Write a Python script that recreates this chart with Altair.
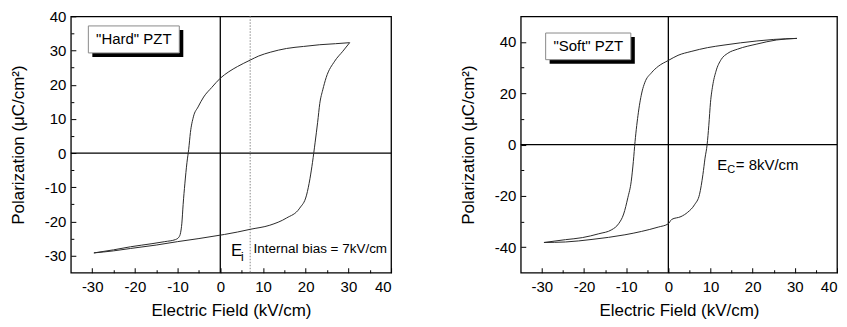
import altair as alt
import pandas as pd

FONT = "Liberation Sans"

# ---------------- data: "Hard" PZT ----------------
hard_down_E = [30.3, 27.0, 23.3, 19.5, 15.5, 11.7, 9.0, 7.0, 4.0, 2.0, 0.0, -2.0, -3.9, -5.2, -6.3,
               -7.0, -7.4, -7.8, -8.3, -8.7, -9.0, -9.3, -9.7, -10.5, -13.0, -16.0, -21.0, -25.0, -29.6]
hard_down_P = [32.3, 32.0, 31.7, 31.2, 30.6, 29.5, 28.4, 27.2, 25.3, 23.8, 21.9, 19.2, 16.4, 13.5, 10.6,
               6.0, 1.1, -2.7, -9.0, -15.0, -20.5, -23.3, -24.6, -25.3, -25.9, -26.5, -27.4, -28.3, -29.2]
hard_up_E = [-29.6, -25.0, -21.0, -15.0, -10.0, -5.0, 0.0, 1.0, 4.0, 7.0, 11.6, 15.5, 18.6, 20.2, 21.0,
             21.6, 22.2, 22.8, 23.3, 24.0, 24.8, 26.8, 28.7, 30.3]
hard_up_P = [-29.2, -28.6, -27.9, -26.9, -25.9, -25.0, -24.0, -23.8, -23.1, -22.3, -21.1, -19.0, -16.1,
             -12.3, -7.5, -2.7, 3.0, 9.0, 14.5, 18.5, 22.1, 26.9, 29.8, 32.3]

# ---------------- data: "Soft" PZT ----------------
soft_down_E = [30.5, 25.0, 21.0, 13.2, 9.3, 5.4, 2.3, 0.0, -2.4, -4.0, -5.6, -6.2, -7.1, -7.9, -8.3,
               -8.8, -9.6, -10.6, -11.8, -13.4, -16.5, -20.4, -24.4, -29.5]
soft_down_P = [41.4, 41.0, 40.4, 38.8, 37.8, 36.3, 34.8, 32.8, 30.5, 28.0, 24.1, 20.9, 12.6, 1.1, -6.6,
               -14.3, -20.7, -27.1, -30.9, -33.2, -34.8, -36.3, -37.1, -38.2]
soft_up_E = [-29.5, -24.4, -18.1, -10.3, -6.4, -2.4, 0.0, 0.8, 3.0, 4.6, 6.2, 7.4, 8.2, 8.7, 9.2, 9.6,
             10.0, 10.5, 11.3, 12.5, 14.1, 16.4, 21.0, 25.7, 30.5]
soft_up_P = [-38.2, -38.0, -37.0, -35.2, -33.9, -32.2, -30.9, -29.2, -28.1, -26.4, -23.5, -19.4, -11.7,
             -5.3, 0.0, 7.5, 16.5, 22.8, 28.6, 33.1, 35.6, 37.2, 39.2, 40.8, 41.4]

# axis ticks
x_major = [-30, -20, -10, 0, 10, 20, 30, 40]
x_minor = [-25, -15, -5, 5, 15, 25, 35]
hard_y_major = [-30, -20, -10, 0, 10, 20, 30, 40]
hard_y_minor = [-25, -15, -5, 5, 15, 25, 35]
soft_y_major = [-40, -20, 0, 20, 40]
soft_y_minor = [-30, -10, 10, 30]

# label boxes (data units)
hard_box = {"x0": -30.9, "x1": -9.6, "y0": 37.2, "y1": 29.3, "t": '"Hard" PZT'}
soft_box = {"x0": -29.1, "x1": -8.9, "y0": 43.5, "y1": 33.1, "t": '"Soft" PZT'}

internal_bias_E = 7
X_DOMAIN = [-35, 40]
SHADOW_PX = 4


def loop_df(dE, dP, uE, uP):
    rows = []
    for e, p in zip(dE, dP):
        rows.append({"E": e, "P": p, "branch": "down"})
    for e, p in zip(uE, uP):
        rows.append({"E": e, "P": p, "branch": "up"})
    return pd.DataFrame(rows)


def txt(xs, ys, E, P, t, size, dx=0, dy=0, align="left"):
    return alt.Chart(pd.DataFrame({"E": [E], "P": [P], "t": [t]})).mark_text(
        font=FONT, fontSize=size, color="black", align=align, baseline="middle", dx=dx, dy=dy
    ).encode(
        x=alt.X("E:Q", scale=xs, axis=None),
        y=alt.Y("P:Q", scale=ys, axis=None),
        text="t:N",
    )


def panel(df, ydom, ymaj, ymin, box, width, height, extras):
    xs = alt.Scale(domain=X_DOMAIN, nice=False, zero=False)
    ys = alt.Scale(domain=ydom, nice=False, zero=False)
    lab = "datum.value + ''"
    xa = alt.Axis(values=x_major, orient="bottom", offset=-5, tickSize=5, labelPadding=7,
                  title="Electric Field (kV/cm)", titlePadding=8, domain=False, labelExpr=lab)
    ya = alt.Axis(values=ymaj, orient="left", offset=-5, tickSize=5, labelPadding=5,
                  title="Polarization (μC/cm²)", titlePadding=17, domain=False, labelExpr=lab)
    xa2 = alt.Axis(values=x_minor, orient="bottom", offset=-3, tickSize=3, labels=False,
                   title=None, domain=False)
    ya2 = alt.Axis(values=ymin, orient="left", offset=-3, tickSize=3, labels=False,
                   title=None, domain=False)

    vzero = alt.Chart(pd.DataFrame({"E": [0]})).mark_rule(color="black", strokeWidth=1.3).encode(
        x=alt.X("E:Q", scale=xs, axis=None))
    hzero = alt.Chart(pd.DataFrame({"P": [0]})).mark_rule(color="black", strokeWidth=1.3).encode(
        y=alt.Y("P:Q", scale=ys, axis=None))

    lines = alt.Chart(df).mark_line(color="#2a2a2a", strokeWidth=1, interpolate="monotone").encode(
        x=alt.X("E:Q", scale=xs, axis=xa),
        y=alt.Y("P:Q", scale=ys, axis=ya),
        detail="branch:N",
        order="E:Q",
    )
    minor = alt.Chart(df).mark_point(opacity=0).encode(
        x=alt.X("E:Q", scale=xs, axis=xa2),
        y=alt.Y("P:Q", scale=ys, axis=ya2),
    )

    # shadow offset: SHADOW_PX pixels converted to data units of each scale
    sdx = SHADOW_PX * (X_DOMAIN[1] - X_DOMAIN[0]) / width
    sdy = SHADOW_PX * (ydom[1] - ydom[0]) / height
    bdf = pd.DataFrame([box])
    shadow = alt.Chart(bdf).transform_calculate(
        sx0=f"datum.x0 + {sdx}", sx1=f"datum.x1 + {sdx}",
        sy0=f"datum.y0 - {sdy}", sy1=f"datum.y1 - {sdy}",
    ).mark_rect(color="black").encode(
        x=alt.X("sx0:Q", scale=xs, axis=None), x2="sx1:Q",
        y=alt.Y("sy0:Q", scale=ys, axis=None), y2="sy1:Q")
    rect = alt.Chart(bdf).mark_rect(fill="white", stroke="#8a8a8a", strokeWidth=1).encode(
        x=alt.X("x0:Q", scale=xs, axis=None), x2="x1:Q",
        y=alt.Y("y0:Q", scale=ys, axis=None), y2="y1:Q")
    btxt = txt(xs, ys, (box["x0"] + box["x1"]) / 2, (box["y0"] + box["y1"]) / 2, box["t"], 15, align="center")

    layers = [vzero, hzero] + [f(xs, ys) for f in extras] + [lines, minor, shadow, rect, btxt]
    return alt.layer(*layers).resolve_axis(x="independent", y="independent").properties(
        width=width, height=height)


def hard_extras():
    def dotted(xs, ys):
        return alt.Chart(pd.DataFrame({"E": [internal_bias_E]})).mark_rule(
            color="#8a8a8a", strokeWidth=1, strokeDash=[1.5, 1.5]).encode(
            x=alt.X("E:Q", scale=xs, axis=None))
    return [
        dotted,
        lambda xs, ys: txt(xs, ys, 2.5, -28.5, "E", 17),
        lambda xs, ys: txt(xs, ys, 2.5, -28.5, "i", 12, dx=10, dy=7),
        lambda xs, ys: txt(xs, ys, 7.8, -28.1, "Internal bias = 7kV/cm", 13.5),
    ]


def soft_extras():
    return [
        lambda xs, ys: txt(xs, ys, 11.6, -8.1, "E", 15),
        lambda xs, ys: txt(xs, ys, 11.6, -8.1, "C", 11, dx=10, dy=5),
        lambda xs, ys: txt(xs, ys, 16.0, -8.1, "= 8kV/cm", 15),
    ]


hard = panel(loop_df(hard_down_E, hard_down_P, hard_up_E, hard_up_P), [-35, 40],
             hard_y_major, hard_y_minor, hard_box, 321, 257, hard_extras())
soft = panel(loop_df(soft_down_E, soft_down_P, soft_up_E, soft_up_P), [-50, 50],
             soft_y_major, soft_y_minor, soft_box, 317, 257, soft_extras())

chart = alt.hconcat(hard, soft, spacing=65).properties(
    padding={"left": 0, "top": 0, "right": 0, "bottom": 0}
).configure_view(stroke="black", strokeWidth=1.3).configure_axis(
    grid=False, labelFont=FONT, labelFontSize=15, labelColor="black",
    titleFont=FONT, titleFontSize=17, titleFontWeight="normal", titleColor="black",
    tickColor="black", tickWidth=1,
)

chart.save("out.html", embed_options={"renderer": "svg", "actions": False})
